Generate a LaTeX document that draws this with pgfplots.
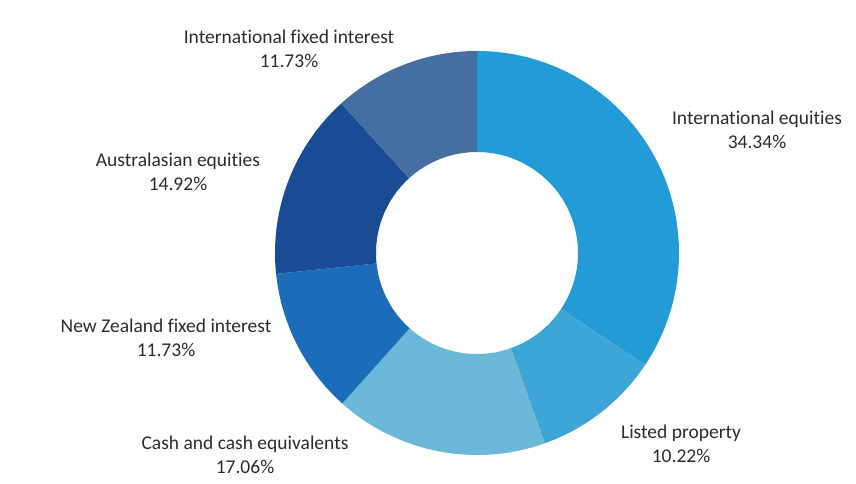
\documentclass[border=0pt]{standalone}
\usepackage{pgfplots}
\usepackage{pgfplotstable}
\pgfplotsset{compat=1.18}
\usepackage{fontspec}
\setmainfont{Carlito}[Ligatures=NoCommon]

\definecolor{cIntEq}{HTML}{229BD7}
\definecolor{cListed}{HTML}{3DA6D6}
\definecolor{cCash}{HTML}{6CB8D9}
\definecolor{cNZfix}{HTML}{1B6DBA}
\definecolor{cAusEq}{HTML}{1A4C95}
\definecolor{cIntFix}{HTML}{446FA0}
\definecolor{labeltext}{HTML}{2B2B2B}

% share in %, label centre in image pixels (x right, y down), fill colour
\pgfplotstableread[col sep=comma]{
name,share,lx,ly,colour
International equities,34.34,757,130,cIntEq
Listed property,10.22,681,444,cListed
Cash and cash equivalents,17.06,245,455,cCash
New Zealand fixed interest,11.73,166,338,cNZfix
Australasian equities,14.92,178,172,cAusEq
International fixed interest,11.73,289,49,cIntFix
}\allocation

\begin{document}
\begin{tikzpicture}
\begin{axis}[
  width=856bp, height=484bp, scale only axis,
  xmin=0, xmax=856, ymin=0, ymax=484,
  axis line style={draw=none},
  xtick=\empty, ytick=\empty,
  clip=false,
]
\pgfplotstablegetrowsof{\allocation}
\pgfmathtruncatemacro{\lastrow}{\pgfplotsretval-1}
\def\cum{0}
\pgfplotsforeachungrouped \i in {0,...,\lastrow}{
  \pgfplotstablegetelem{\i}{share}\of{\allocation}\let\share\pgfplotsretval
  \pgfplotstablegetelem{\i}{colour}\of{\allocation}\let\colour\pgfplotsretval
  \pgfplotstablegetelem{\i}{name}\of{\allocation}\let\name\pgfplotsretval
  \pgfplotstablegetelem{\i}{lx}\of{\allocation}\let\lx\pgfplotsretval
  \pgfplotstablegetelem{\i}{ly}\of{\allocation}\let\ly\pgfplotsretval
  % clockwise from 12 o'clock
  \pgfmathsetmacro{\aS}{90-3.6*\cum}
  \pgfmathsetmacro{\aE}{90-3.6*(\cum+\share)}
  \pgfmathsetmacro{\cum}{\cum+\share}
  \edef\wedge{\noexpand\fill[\colour, shift={(axis cs:477,231)}]
    (\aS:202bp) arc[start angle=\aS, end angle=\aE, radius=202bp]
    -- (\aE:101bp) arc[start angle=\aE, end angle=\aS, radius=101bp] -- cycle;}
  \wedge
  \edef\lab{\noexpand\node[labeltext, align=center,
      font={\noexpand\fontsize{19.5bp}{24bp}\noexpand\selectfont}]
    at (axis cs:\lx,\the\numexpr484-\ly\relax) {\name\noexpand\\\share\noexpand\%};}
  \lab
}
\end{axis}
\end{tikzpicture}
\end{document}
